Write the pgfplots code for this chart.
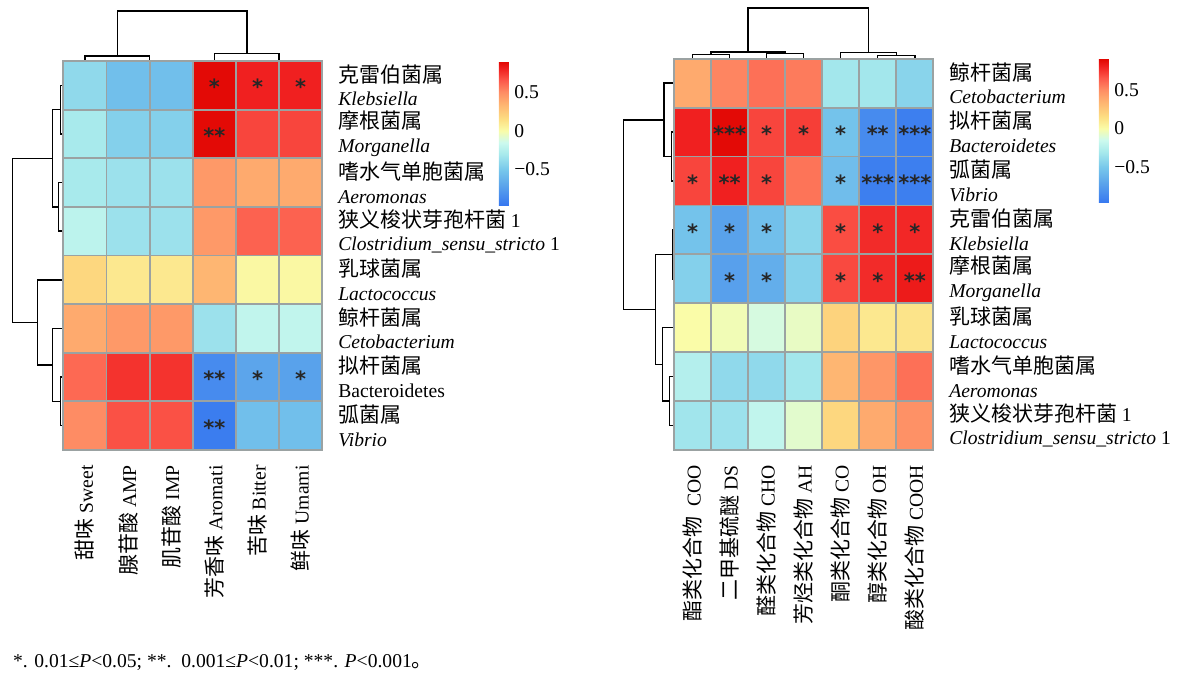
\documentclass[border=0pt]{standalone}
\usepackage{fontspec}
\setmainfont{Liberation Serif}
\newfontfamily\cjk{Noto Sans CJK SC}[Scale=1.07]
\newfontfamily\starfont{DejaVu Sans}
\usepackage{pgfplots}
\pgfplotsset{compat=1.18}
\definecolor{cellgray}{RGB}{155,162,162}

\pgfplotsset{
  hm/.style={
    scale only axis, enlargelimits=false, clip=false, axis on top,
    axis line style={draw=cellgray, line width=0.9pt},
    grid=minor, minor grid style={draw=cellgray, line width=0.9pt},
    major tick length=0pt, minor tick length=0pt,
    yticklabel pos=right,
    ytick={1,...,8},
    minor ytick={0.5,1.5,...,8.5},
    yticklabel style={align=left, anchor=west, inner sep=0pt},
    yticklabel shift=7.8pt,
    xticklabel style={rotate=90, anchor=east, inner sep=0pt},
    xticklabel shift=7.5pt,
    ymin=0.5, ymax=8.5,
    colormap={heat}{
      rgb255(0pt)=(55,120,240);
      rgb255(26pt)=(92,165,235);
      rgb255(46pt)=(120,200,235);
      rgb255(66pt)=(168,234,236);
      rgb255(81pt)=(205,250,238);
      rgb255(96pt)=(250,252,168);
      rgb255(111pt)=(253,222,130);
      rgb255(131pt)=(254,178,112);
      rgb255(146pt)=(254,140,100);
      rgb255(161pt)=(252,88,75);
      rgb255(176pt)=(240,32,32);
      rgb255(186pt)=(224,5,0)
    },
    point meta min=-0.96, point meta max=0.9,
  },
  cb/.style={
    scale only axis, width=5pt, height=72pt,
    at={(parent axis.north east)}, anchor=north west, xshift=#1,
    axis line style={draw=none},
    major tick length=0pt,
    ytick={-0.5,0,0.5}, yticklabels={−0.5,0,0.5},
    yticklabel style={inner sep=0pt, anchor=west},
    yticklabel shift=2.5pt,
  },
  dend/.style={black, line width=0.75pt, forget plot},
  stars/.style={draw=none, forget plot, nodes near coords, point meta=explicit symbolic,
    nodes near coords style={anchor=center, inner sep=0pt, yshift=-0.8pt,
      font=\starfont\bfseries\fontsize{10.5}{10.5}\selectfont, text=black!85}},
}

\begin{document}
\fontsize{9.8}{11.8}\selectfont
\begin{tikzpicture}
\path[use as bounding box] (0,0) rectangle (593.5pt,-337pt);

% ---------------- left heatmap ----------------
\begin{axis}[hm,
  at={(31.65pt,-225pt)}, anchor=south west,
  width=129.5pt, height=194.5pt,
  xmin=0.5, xmax=6.5,
  xtick={1,...,6},
  minor xtick={0.5,1.5,...,6.5},
  xticklabels={{{\cjk 甜味} Sweet},{{\cjk 腺苷酸} AMP},{{\cjk 肌苷酸} IMP},{{\cjk 芳香味} Aromati},{{\cjk 苦味} Bitter},{{\cjk 鲜味} Umami}},
  yticklabels={
    {{\cjk 弧菌属}\\\textit{Vibrio}},
    {{\cjk 拟杆菌属}\\Bacteroidetes},
    {{\cjk 鲸杆菌属}\\\textit{Cetobacterium}},
    {{\cjk 乳球菌属}\\\textit{Lactococcus}},
    {{\cjk 狭义梭状芽孢杆菌} 1\\\textit{Clostridium\_sensu\_stricto} 1},
    {{\cjk 嗜水气单胞菌属}\\\textit{Aeromonas}},
    {{\cjk 摩根菌属}\\\textit{Morganella}},
    {{\cjk 克雷伯菌属}\\\textit{Klebsiella}}},
  colorbar, colorbar style={cb=79.8pt},
]
\addplot[matrix plot*, mesh/cols=6, point meta=explicit] table[meta=c] {
x y c
1 1 0.5
2 1 0.67
3 1 0.67
4 1 -0.93
5 1 -0.55
6 1 -0.55
1 2 0.6
2 2 0.75
3 2 0.75
4 2 -0.85
5 2 -0.7
6 2 -0.72
1 3 0.38
2 3 0.45
3 3 0.45
4 3 -0.35
5 3 -0.2
6 3 -0.2
1 4 0.18
2 4 0.1
3 4 0.1
4 4 0.33
5 4 0.02
6 4 0.02
1 5 -0.22
2 5 -0.35
3 5 -0.35
4 5 0.45
5 5 0.62
6 5 0.62
1 6 -0.3
2 6 -0.35
3 6 -0.35
4 6 0.45
5 6 0.38
6 6 0.38
1 7 -0.3
2 7 -0.45
3 7 -0.45
4 7 0.88
5 7 0.7
6 7 0.7
1 8 -0.4
2 8 -0.55
3 8 -0.55
4 8 0.88
5 8 0.8
6 8 0.8
};
\addplot[stars] table[meta=s] {
x y s
4 8 *
5 8 *
6 8 *
4 7 **
4 2 **
5 2 *
6 2 *
4 1 **
};
% row dendrogram
\addplot[dend] coordinates {(0.5,8) (0.44,8) (0.44,7) (0.5,7)};
\addplot[dend] coordinates {(0.5,6) (0.393,6) (0.393,5) (0.5,5)};
\addplot[dend] coordinates {(0.44,7.5) (0.245,7.5) (0.245,5.5) (0.393,5.5)};
\addplot[dend] coordinates {(0.5,2) (0.44,2) (0.44,1) (0.5,1)};
\addplot[dend] coordinates {(0.5,3) (0.245,3) (0.245,1.5) (0.44,1.5)};
\addplot[dend] coordinates {(0.5,4) (-0.093,4) (-0.093,2.25) (0.245,2.25)};
\addplot[dend] coordinates {(0.245,6.5) (-0.672,6.5) (-0.672,3.125) (-0.093,3.125)};
% column dendrogram
\addplot[dend] coordinates {(2,8.5) (2,8.514) (3,8.514) (3,8.5)};
\addplot[dend] coordinates {(1,8.5) (1,8.603) (2.5,8.603) (2.5,8.514)};
\addplot[dend] coordinates {(5,8.5) (5,8.514) (6,8.514) (6,8.5)};
\addplot[dend] coordinates {(4,8.5) (4,8.658) (5.5,8.658) (5.5,8.514)};
\addplot[dend] coordinates {(1.75,8.603) (1.75,9.528) (4.75,9.528) (4.75,8.658)};
\end{axis}

% ---------------- right heatmap ----------------
\begin{axis}[hm,
  at={(337pt,-225pt)}, anchor=south west,
  width=129.65pt, height=195.65pt,
  xmin=0.5, xmax=7.5,
  xtick={1,...,7},
  minor xtick={0.5,1.5,...,7.5},
  xticklabels={{{\cjk 酯类化合物}\ \ COO},{{\cjk 二甲基硫醚} DS},{{\cjk 醛类化合物} CHO},{{\cjk 芳烃类化合物} AH},{{\cjk 酮类化合物} CO},{{\cjk 醇类化合物} OH},{{\cjk 酸类化合物} COOH}},
  yticklabels={
    {{\cjk 狭义梭状芽孢杆菌} 1\\\textit{Clostridium\_sensu\_stricto} 1},
    {{\cjk 嗜水气单胞菌属}\\\textit{Aeromonas}},
    {{\cjk 乳球菌属}\\\textit{Lactococcus}},
    {{\cjk 摩根菌属}\\\textit{Morganella}},
    {{\cjk 克雷伯菌属}\\\textit{Klebsiella}},
    {{\cjk 弧菌属}\\\textit{Vibrio}},
    {{\cjk 拟杆菌属}\\\textit{Bacteroidetes}},
    {{\cjk 鲸杆菌属}\\\textit{Cetobacterium}}},
  colorbar, colorbar style={cb=74.3pt},
]
\addplot[matrix plot*, mesh/cols=7, point meta=explicit] table[meta=c] {
x y c
1 1 -0.33
2 1 -0.35
3 1 -0.2
4 1 -0.08
5 1 0.18
6 1 0.38
7 1 0.48
1 2 -0.25
2 2 -0.4
3 2 -0.4
4 2 -0.32
5 2 0.33
6 2 0.46
7 2 0.58
1 3 0.0
2 3 -0.03
3 3 -0.12
4 3 -0.06
5 3 0.2
6 3 0.1
7 3 0.12
1 4 -0.45
2 4 -0.73
3 4 -0.65
4 4 -0.44
5 4 0.69
6 4 0.77
7 4 0.82
1 5 -0.53
2 5 -0.72
3 5 -0.55
4 5 -0.42
5 5 0.68
6 5 0.77
7 5 0.78
1 6 0.7
2 6 0.8
3 6 0.7
4 6 0.57
5 6 -0.56
6 6 -0.92
7 6 -0.92
1 7 0.8
2 7 0.88
3 7 0.7
4 7 0.72
5 7 -0.53
6 7 -0.85
7 7 -0.92
1 8 0.38
2 8 0.52
3 8 0.58
4 8 0.55
5 8 -0.32
6 8 -0.32
7 8 -0.43
};
\addplot[stars] table[meta=s] {
x y s
2 7 ***
3 7 *
4 7 *
5 7 *
6 7 **
7 7 ***
1 6 *
2 6 **
3 6 *
5 6 *
6 6 ***
7 6 ***
1 5 *
2 5 *
3 5 *
5 5 *
6 5 *
7 5 *
2 4 *
3 4 *
5 4 *
6 4 *
7 4 **
};
% row dendrogram
\addplot[dend] coordinates {(0.5,7) (0.438,7) (0.438,6) (0.5,6)};
\addplot[dend] coordinates {(0.5,8) (0.23,8) (0.23,6.5) (0.438,6.5)};
\addplot[dend] coordinates {(0.5,5) (0.465,5) (0.465,4) (0.5,4)};
\addplot[dend] coordinates {(0.5,2) (0.384,2) (0.384,1) (0.5,1)};
\addplot[dend] coordinates {(0.5,3) (0.195,3) (0.195,1.5) (0.384,1.5)};
\addplot[dend] coordinates {(0.465,4.5) (-0.005,4.5) (-0.005,2.25) (0.195,2.25)};
\addplot[dend] coordinates {(0.23,7.25) (-0.869,7.25) (-0.869,3.375) (-0.005,3.375)};
% column dendrogram
\addplot[dend] coordinates {(1,8.5) (1,8.59) (2,8.59) (2,8.5)};
\addplot[dend] coordinates {(3,8.5) (3,8.61) (4,8.61) (4,8.5)};
\addplot[dend] coordinates {(1.5,8.59) (1.5,8.637) (3.5,8.637) (3.5,8.61)};
\addplot[dend] coordinates {(6,8.5) (6,8.561) (7,8.561) (7,8.5)};
\addplot[dend] coordinates {(5,8.5) (5,8.631) (6.5,8.631) (6.5,8.561)};
\addplot[dend] coordinates {(2.5,8.637) (2.5,9.537) (5.75,9.537) (5.75,8.631)};
\end{axis}

\node[anchor=west, inner sep=0pt] at (6.35pt,-331pt)
  {*. 0.01≤\textit{P}<0.05; **.\ \ 0.001≤\textit{P}<0.01; ***. \textit{P}<0.001{\cjk 。}};
\end{tikzpicture}
\end{document}
